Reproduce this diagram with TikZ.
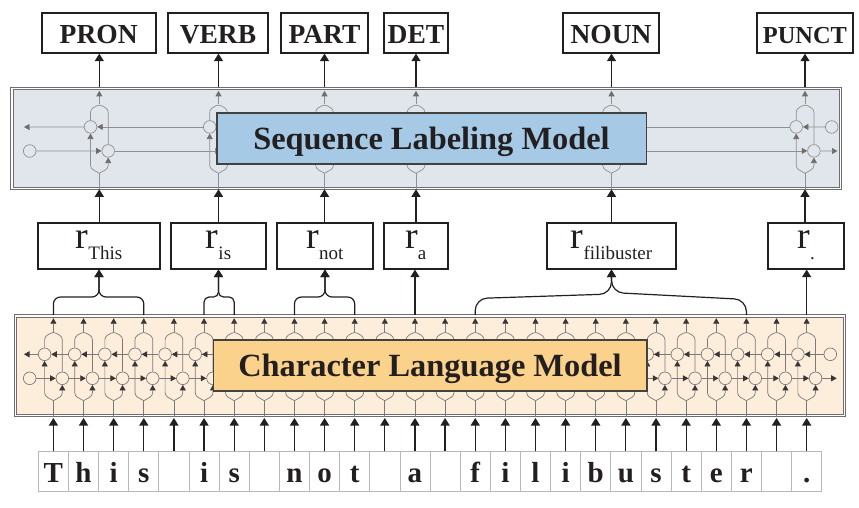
\documentclass[tikz,border=0pt]{standalone}
\usepackage{fontspec}
\setmainfont{Liberation Serif}
\usetikzlibrary{arrows.meta}
\definecolor{ink}{HTML}{231F20}
\definecolor{charfill}{HTML}{FDEEDC}
\definecolor{charbox}{HTML}{FBD28B}
\definecolor{seqfill}{HTML}{E1E6EC}
\definecolor{seqbox}{HTML}{A6CAE5}
\newcommand{\bicell}[4]{
    \coordinate (#1Out_#2) at (#3,#4+3.5);
    \coordinate (#1Top_#2) at (#3,#4+17);
    \coordinate (#1Bot_#2) at (#3,#4+86);
    \coordinate (#1In_#2) at (#3,#4+102);
    \node[lstm] (#1B_#2) at (#3-8.8,#4+39.6) {};
    \node[lstm] (#1F_#2) at (#3+8.9,#4+63.6) {};
    \draw[unitline,rounded corners=3pt] (#1B_#2.north) -- (#3-8.8,#4+22) -- (#1Top_#2) -- (#3+8.9,#4+22) -- (#1F_#2.north);
    \draw[unittip] (#1Top_#2) -- (#1Out_#2);
    \draw[unitline] (#1In_#2) -- (#1Bot_#2);
    \draw[unittip,rounded corners=3pt] (#1Bot_#2) -- (#3-8.8,#4+81) -- (#1B_#2.south);
    \draw[unittip,rounded corners=3pt] (#1Bot_#2) -- (#3+8.9,#4+81) -- (#1F_#2.south);
}
\newcommand{\rsub}[1]{r\raisebox{-10.3pt}{\fontsize{19}{20}\selectfont #1}}
\begin{document}
\begin{tikzpicture}[x=1pt, y=-1pt]
    \tikzstyle{frame}=[draw=ink!65,fill=white,line width=.7pt,inner sep=0pt,minimum width=831pt,minimum height=102pt]
    \tikzstyle{model}=[draw=ink!65,line width=.7pt,inner sep=0pt,minimum width=826.4pt,minimum height=97.4pt]
    \tikzstyle{title}=[draw=ink!85,line width=1.6pt,text=ink,inner sep=0pt,text height=37pt,text depth=14.3pt,font=\bfseries\fontsize{32.4}{34}\selectfont]
    \tikzstyle{tag}=[draw=ink,line width=1.9pt,fill=white,text=ink,inner sep=0pt,text height=30pt,text depth=9.4pt,font=\bfseries\fontsize{27.5}{30}\selectfont]
    \tikzstyle{repr}=[draw=ink,line width=1.9pt,fill=white,text=ink,inner sep=0pt,text height=26pt,text depth=19.7pt,font=\fontsize{38}{40}\selectfont]
    \tikzstyle{letter}=[draw=black!28,line width=.8pt,fill=white,text=ink,inner sep=0pt,minimum width=30.13pt,text height=31pt,text depth=9pt,font=\bfseries\fontsize{29}{30}\selectfont]
    \tikzstyle{lstm}=[circle,draw=unitcol,line width=.7pt,minimum size=12.6pt,inner sep=0pt]
    \tikzstyle{unitline}=[draw=unitcol,line width=.7pt]
    \tikzstyle{unittip}=[draw=unitcol,line width=.7pt,-{Triangle[length=5.5pt,width=6pt,color=tipcol]}]
    \tikzstyle{bigarrow}=[draw=ink,line width=1.2pt,-{Triangle[length=7.5pt,width=9pt]}]

    \useasboundingbox (0,0) rectangle (859,508);

    % character language model
    \node[frame] (charFrame) at (429.8,365.7) {};
    \node[model,fill=charfill] (charModel) at (429.8,365.7) {};
    \begin{scope}
        \colorlet{unitcol}{ink!60}
        \colorlet{tipcol}{ink!90}
        \foreach \i in {0,...,25}{
            \pgfmathsetmacro{\cx}{53.4+30.13*\i}
            \bicell{char}{\i}{\cx}{314.7}
        }
        \foreach \i in {0,...,24}{
            \pgfmathtruncatemacro{\j}{\i+1}
            \draw[unittip] (charF_\i) -- (charF_\j);
            \draw[unittip] (charB_\j) -- (charB_\i);
        }
        \node[lstm] (charStartF) at (29.7,378.3) {};
        \node[lstm] (charStartB) at (830.3,354.3) {};
        \coordinate (charEndB) at (24,354.3);
        \coordinate (charEndF) at (836.7,378.3);
        \draw[unittip] (charStartF) -- (charF_0);
        \draw[unittip] (charStartB) -- (charB_25);
        \draw[unittip] (charB_0) -- (charEndB);
        \draw[unittip] (charF_25) -- (charEndF);
    \end{scope}
    \node[title,fill=charbox,minimum width=433.4pt] (charLabel) at (430,365.6) {Character Language Model};

    % sequence labeling model
    \node[frame] (seqFrame) at (426.3,138.3) {};
    \node[model,fill=seqfill] (seqModel) at (426.3,138.3) {};
    \begin{scope}
        \colorlet{unitcol}{ink!50}
        \colorlet{tipcol}{ink!65}
        \foreach \i/\cx in {0/99.3,1/218.5,2/324.5,3/416,4/611.5,5/805}{
            \bicell{seq}{\i}{\cx}{87.3}
        }
        \foreach \i in {0,...,4}{
            \pgfmathtruncatemacro{\j}{\i+1}
            \draw[unittip] (seqF_\i) -- (seqF_\j);
            \draw[unittip] (seqB_\j) -- (seqB_\i);
        }
        \node[lstm] (seqStartF) at (29.7,151) {};
        \node[lstm] (seqStartB) at (831.7,127) {};
        \coordinate (seqEndB) at (24,127);
        \coordinate (seqEndF) at (837.5,151);
        \draw[unittip] (seqStartF) -- (seqF_0);
        \draw[unittip] (seqStartB) -- (seqB_5);
        \draw[unittip] (seqB_0) -- (seqEndB);
        \draw[unittip] (seqF_5) -- (seqEndF);
    \end{scope}
    \node[title,fill=seqbox,minimum width=429.6pt] (seqLabel) at (431.5,138.5) {Sequence Labeling Model};

    % output tags
    \node[tag,minimum width=114pt] (PRON) at (98.7,33) {PRON};
    \node[tag,minimum width=100pt] (VERB) at (218,33) {VERB};
    \node[tag,minimum width=87pt] (PART) at (324.5,33) {PART};
    \node[tag,minimum width=64pt] (DET) at (416,33) {DET};
    \node[tag,minimum width=95.7pt] (NOUN) at (611,33) {NOUN};
    \node[tag,minimum width=95.7pt,font=\bfseries\fontsize{24.4}{26}\selectfont] (PUNCT) at (804.9,33) {PUNCT};

    % word representations
    \node[repr,minimum width=122pt] (rThis) at (99,245.8) {\rsub{This}};
    \node[repr,minimum width=95pt] (rIs) at (218.5,245.8) {\rsub{is}};
    \node[repr,minimum width=95.4pt] (rNot) at (325,245.8) {\rsub{not}};
    \node[repr,minimum width=63.7pt] (rA) at (415.8,245.8) {\rsub{a}};
    \node[repr,minimum width=128.7pt] (rFili) at (611.5,245.8) {\rsub{filibuster}};
    \node[repr,minimum width=75.7pt] (rDot) at (806.2,245.8) {\rsub{.}};

    % input characters
    \foreach \i/\ch in {0/T,1/h,2/i,3/s,4/{},5/i,6/s,7/{},8/n,9/o,10/t,11/{},12/a,13/{},14/f,15/i,16/l,17/i,18/b,19/u,20/s,21/t,22/e,23/r,24/{},25/.}{
        \pgfmathsetmacro{\cx}{53.4+30.13*\i}
        \node[letter] (T_\i) at (\cx,471.7) {\ch};
        \coordinate (charFoot_\i) at (\cx,418);
        \draw[bigarrow] (T_\i.north) -- (charFoot_\i);
        \coordinate (charHead_\i) at (\cx,315);
    }

    % arrows between the layers
    \foreach \i/\n/\t in {0/rThis/PRON,1/rIs/VERB,2/rNot/PART,3/rA/DET,4/rFili/NOUN,5/rDot/PUNCT}{
        \draw[bigarrow] (seqIn_\i |- \n.north) -- (seqIn_\i);
        \draw[bigarrow] (seqOut_\i |- seqFrame.north) -- (seqOut_\i |- \t.south);
    }

    % braces
    \draw[bigarrow,rounded corners=7pt] (charHead_0) |- (99,297) -- (rThis.south);
    \draw[bigarrow,rounded corners=7pt] (charHead_3) |- (99,297) -- (rThis.south);
    \draw[bigarrow,rounded corners=5pt] (charHead_5) |- (218.5,297) -- (rIs.south);
    \draw[bigarrow,rounded corners=5pt] (charHead_6) |- (218.5,297) -- (rIs.south);
    \draw[bigarrow,rounded corners=7pt] (charHead_8) |- (325,297) -- (rNot.south);
    \draw[bigarrow,rounded corners=7pt] (charHead_10) |- (325,297) -- (rNot.south);
    \draw[bigarrow] (charHead_12) -- (charHead_12 |- rA.south);
    \draw[bigarrow,rounded corners=12pt] (charHead_14) -- (475.2,298.5) -- (611.5,294) -- (rFili.south);
    \draw[bigarrow,rounded corners=12pt] (charHead_23) -- (746.4,299.5) -- (611.5,292.5) -- (rFili.south);
    \draw[bigarrow] (charHead_25) -- (charHead_25 |- rDot.south);
\end{tikzpicture}
\end{document}
